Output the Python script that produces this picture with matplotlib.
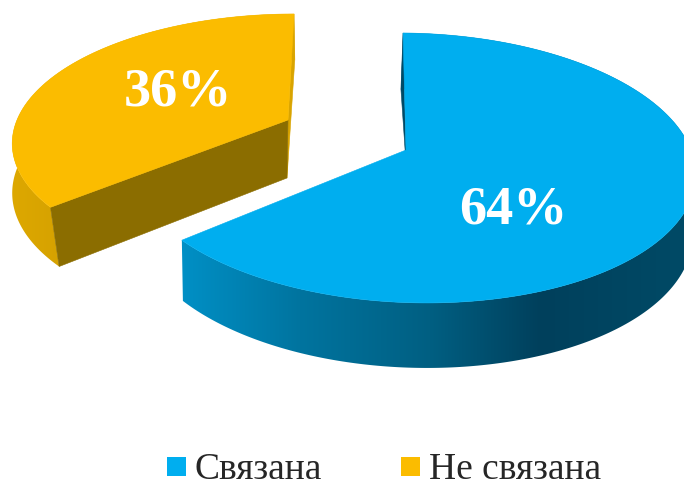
import numpy as np
import matplotlib
matplotlib.use("Agg")
import matplotlib.pyplot as plt
from matplotlib.colors import to_rgb

categories = ["Связана", "Не связана"]
shares = [64, 36]
pct_labels = ["64%", "36%"]
top_colors = ["#00aeef", "#fbbc00"]
cut_colors = ["#004a66", "#8b6d00"]

plt.rcParams["font.family"] = ["Liberation Serif", "DejaVu Serif"]

fig = plt.figure(figsize=(6.84, 4.82), dpi=100)
ax = fig.add_axes([0, 0, 1, 1])


def ring(t, cx, cy, w, h, k, shear, ox=0):
    # circle seen in perspective, t in degrees
    t = np.radians(t)
    d = 1 + k * np.sin(t)
    dy = h * np.sin(t) / d
    return cx + ox + w * np.cos(t) / d - shear * dy, cy - dy


def poly(xs, ys, color, z):
    ax.fill(xs, ys, facecolor=color, edgecolor=color, linewidth=0.4, zorder=z)


def wall(xs, ys, stops, z):
    # outer wall, shaded along x and clipped to the wall outline
    px = np.arange(0, 684)
    sx = [s[0] for s in stops]
    rgb = [np.interp(px, sx, [to_rgb(s[1])[i] for s in stops]) for i in range(3)]
    img = np.dstack(rgb)
    im = ax.imshow(img, extent=(0, 684, 482, 0), aspect="auto", zorder=z, interpolation="bilinear")
    patch = plt.Polygon(np.c_[xs, ys], closed=True, transform=ax.transData)
    im.set_clip_path(patch)


def draw_slice(t0, t0_low, t1, up, low, top, cut, end_cut, wall_stops, z):
    ts = np.linspace(t0, t1, 300)
    ts_low = np.linspace(t0_low, t1, 300)
    ux, uy = ring(ts, **up)
    lx, ly = ring(ts_low, **low)
    wall(np.r_[ux, lx[::-1]], np.r_[uy, ly[::-1]], wall_stops, z)
    # start face
    poly([up["cx"], ux[0], lx[0], low["cx"]], [up["cy"], uy[0], ly[0], low["cy"]], cut, z + 1)
    if end_cut is not None:
        poly([up["cx"], ux[-1], lx[-1], low["cx"]], [up["cy"], uy[-1], ly[-1], low["cy"]], end_cut, z + 1)
    # top surface
    poly(np.r_[up["cx"], ux], np.r_[up["cy"], uy], top, z + 2)


sweep = [s / sum(shares) * 360 for s in shares]

# blue slice goes clockwise from the top
draw_slice(
    89, 90, 89 - sweep[0],
    dict(cx=406, cy=150, w=280, h=132.6, k=0.133, shear=0.105, ox=5),
    dict(cx=409, cy=207, w=275, h=136, k=0.155, shear=0.094, ox=3),
    top_colors[0], cut_colors[0], None,
    [(180, "#0090c6"), (300, "#00749f"), (430, "#005f82"), (540, "#00405c"), (684, "#004a66")],
    1,
)

# yellow slice goes counter clockwise from the top
draw_slice(
    90, 88.3, 90 + sweep[1],
    dict(cx=288, cy=120, w=271, h=123, k=0.16, shear=-0.057),
    dict(cx=287, cy=178, w=270, h=130, k=0.10, shear=-0.03, ox=-3),
    top_colors[1], "#d9a400", cut_colors[1],
    [(10, "#dda800"), (60, "#d6a200")],
    5,
)

ax.text(513, 210, pct_labels[0], color="white", fontsize=39, fontweight="bold",
        ha="center", va="center", zorder=10)
ax.text(178, 92, pct_labels[1], color="white", fontsize=39, fontweight="bold",
        ha="center", va="center", zorder=10)

# legend
legend_x = [167, 401]
for x, name, c in zip(legend_x, categories, top_colors):
    ax.add_patch(plt.Rectangle((x, 457), 19, 19, facecolor=c, edgecolor="none"))
    ax.text(x + 28, 479, name, color="#262626", fontsize=27, ha="left", va="baseline")

ax.set_xlim(0, 684)
ax.set_ylim(482, 0)
ax.axis("off")

fig.savefig("out.png", dpi=100)
